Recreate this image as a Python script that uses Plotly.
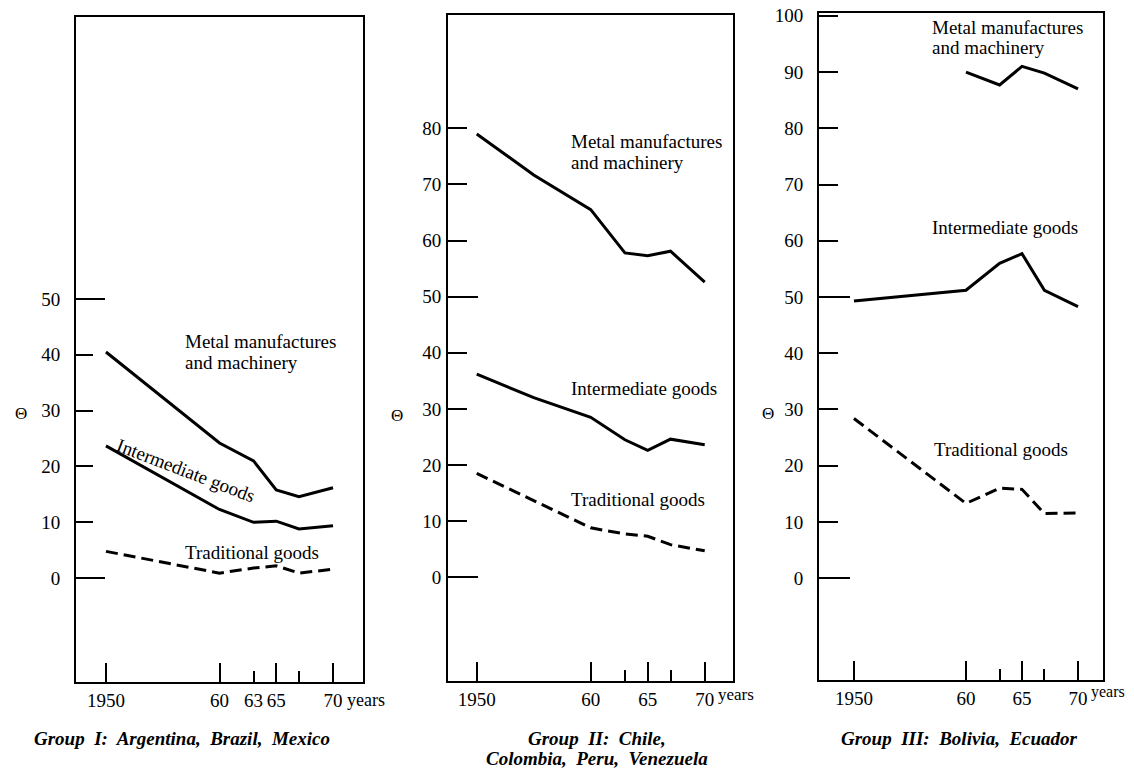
import plotly.graph_objects as go

W, H = 1134, 768
OFF = 8  # page body margin in the browser

# ---------------- data ----------------
years_g1 = [1950, 1960, 1963, 1965, 1967, 1970]
metal_g1 = [40.5, 24.2, 21.0, 15.8, 14.6, 16.2]
inter_g1 = [23.7, 12.3, 10.0, 10.2, 8.8, 9.4]
trad_g1 = [4.8, 0.9, 1.8, 2.2, 0.9, 1.6]

years_g2 = [1950, 1955, 1960, 1963, 1965, 1967, 1970]
metal_g2 = [79.0, 71.7, 65.5, 57.8, 57.3, 58.1, 52.6]
inter_g2 = [36.2, 32.0, 28.5, 24.5, 22.6, 24.6, 23.6]
trad_g2 = [18.5, 13.7, 8.8, 7.7, 7.3, 5.8, 4.7]

years_g3 = [1950, 1960, 1963, 1965, 1967, 1970]
metal_g3 = [None, 90.0, 87.7, 91.0, 89.8, 87.0]
inter_g3 = [49.3, 51.2, 56.0, 57.7, 51.2, 48.3]
trad_g3 = [28.4, 13.3, 16.0, 15.8, 11.5, 11.6]

x_tick_all = [1950, 1960, 1963, 1965, 1967, 1970]
x_tick_major = [1950, 1960, 1965, 1970]
x_text_g1 = ["1950", "60", "63", "65", "", "70"]
x_text_g23 = ["1950", "60", "", "65", "", "70"]
y_tick_g1 = [0, 10, 20, 30, 40, 50]
y_tick_g2 = [0, 10, 20, 30, 40, 50, 60, 70, 80]
y_tick_g3 = [0, 10, 20, 30, 40, 50, 60, 70, 80, 90, 100]
y_tick_major = [0, 50]

titles = [["Group  I:  Argentina,  Brazil,  Mexico"],
          ["Group  II:  Chile,", "Colombia,  Peru,  Venezuela"],
          ["Group  III:  Bolivia,  Ecuador"]]

SERIF = "Liberation Serif"

# ---------------- layout geometry (pixels) ----------------
panels = [
    dict(x0=76, x1=363, y0=17, y1=682, xr=[1947.36, 1972.64], yr=[-18.6, 100.5],
         years=years_g1, metal=metal_g1, inter=inter_g1, trad=trad_g1,
         xtext=x_text_g1, yticks=y_tick_g1, ystand=10, short_y=17, long_y=29),
    dict(x0=448, x1=733, y0=15, y1=681, xr=[1947.48, 1972.48], yr=[-18.5, 100.2],
         years=years_g2, metal=metal_g2, inter=inter_g2, trad=trad_g2,
         xtext=x_text_g23, yticks=y_tick_g2, ystand=1, short_y=19, long_y=30),
    dict(x0=819, x1=1103, y0=13, y1=680, xr=[1946.88, 1972.23], yr=[-18.1, 100.5],
         years=years_g3, metal=metal_g3, inter=inter_g3, trad=trad_g3,
         xtext=x_text_g23, yticks=y_tick_g3, ystand=10, short_y=19, long_y=31),
]


def px(x):
    return (x - OFF) / W


def py(y):
    return 1 - (y - OFF) / H


fig = go.Figure()
layout = dict(
    width=W, height=H, margin=dict(l=0, r=0, t=0, b=0, autoexpand=False),
    paper_bgcolor="white", plot_bgcolor="white", showlegend=False,
    font=dict(family=SERIF, color="black", size=19),
)

tickfont = dict(family=SERIF, size=19, color="black")

for i, p in enumerate(panels):
    n = i + 1
    m = i + 4
    xid, yid = f"x{n}" if n > 1 else "x", f"y{n}" if n > 1 else "y"
    xd = [px(p["x0"]), px(p["x1"])]
    yd = [py(p["y1"]), py(p["y0"])]
    # primary axes (box + labels + short ticks)
    layout[f"xaxis{n}"] = dict(
        domain=xd, range=p["xr"], anchor=yid, showgrid=False, zeroline=False,
        showline=True, linecolor="black", linewidth=2, mirror=True,
        ticks="inside", ticklen=11, tickwidth=2, tickcolor="black",
        tickmode="array", tickvals=x_tick_all, ticktext=p["xtext"],
        tickfont=tickfont, ticklabelstandoff=0, ticklabeloverflow="allow",
        automargin=False,
    )
    layout[f"yaxis{n}"] = dict(
        domain=yd, range=p["yr"], anchor=xid, showgrid=False, zeroline=False,
        showline=True, linecolor="black", linewidth=2, mirror=True,
        ticks="inside", ticklen=p["short_y"], tickwidth=2, tickcolor="black",
        tickmode="array", tickvals=p["yticks"], ticktext=[str(v) for v in p["yticks"]],
        tickfont=tickfont, ticklabelstandoff=p["ystand"], ticklabeloverflow="allow",
        automargin=False,
    )
    # overlay axes for the longer ticks
    layout[f"xaxis{m}"] = dict(
        overlaying=xid, anchor=yid, range=p["xr"], side="bottom",
        showgrid=False, zeroline=False, showline=False, automargin=False,
        ticks="inside", ticklen=19, tickwidth=2, tickcolor="black",
        tickmode="array", tickvals=x_tick_major, showticklabels=False,
    )
    layout[f"yaxis{m}"] = dict(
        overlaying=yid, anchor=xid, range=p["yr"], side="left",
        showgrid=False, zeroline=False, showline=False, automargin=False,
        ticks="inside", ticklen=p["long_y"], tickwidth=2, tickcolor="black",
        tickmode="array", tickvals=y_tick_major, showticklabels=False,
    )

    for vals, dash in [(p["metal"], "solid"), (p["inter"], "solid"), (p["trad"], "12px,6px")]:
        fig.add_trace(go.Scatter(
            x=p["years"], y=vals, mode="lines", xaxis=xid, yaxis=yid,
            line=dict(color="black", width=3, dash=dash),
            connectgaps=False, hoverinfo="skip",
        ))
    # invisible trace on the overlay axes so they are drawn
    fig.add_trace(go.Scatter(
        x=p["years"], y=p["inter"], mode="lines", xaxis=f"x{m}", yaxis=f"y{m}",
        line=dict(color="rgba(0,0,0,0)", width=0), hoverinfo="skip",
    ))

annotations = []


def text(t, x, y, size=19, xanchor="left", angle=0, font=None):
    f = dict(family=SERIF, size=size, color="black")
    if font:
        f.update(font)
    annotations.append(dict(text=t, x=px(x), y=py(y), xref="paper", yref="paper",
                            xanchor=xanchor, yanchor="middle", showarrow=False,
                            textangle=angle, font=f))


# Panel 1
text("Metal manufactures", 183, 342)
text("and machinery", 183, 362)
text("Intermediate goods", 186, 470, xanchor="center", angle=21)
text("Traditional goods", 183, 552)
text("\u0398", 21, 413, size=17, xanchor="center")
text("years", 345, 700, size=18)
# Panel 2
text("Metal manufactures", 569, 142)
text("and machinery", 569, 162)
text("Intermediate goods", 569, 388)
text("Traditional goods", 569, 499)
text("\u0398", 397, 415, size=17, xanchor="center")
text("years", 716, 694, size=17)
# Panel 3
text("Metal manufactures", 930, 27)
text("and machinery", 930, 47)
text("Intermediate goods", 930, 228)
text("Traditional goods", 932, 449)
text("\u0398", 768, 413, size=17, xanchor="center")
text("years", 1089, 692, size=16)

# Titles
tfont = dict(style="italic", weight="bold")
text(titles[0][0], 182, 738, size=19, xanchor="center", font=tfont)
text(titles[1][0], 597, 738, size=19, xanchor="center", font=tfont)
text(titles[1][1], 597, 758, size=19, xanchor="center", font=tfont)
text(titles[2][0], 959, 738, size=19, xanchor="center", font=tfont)

layout["annotations"] = annotations
fig.update_layout(**layout)
fig.write_html("out.html")
